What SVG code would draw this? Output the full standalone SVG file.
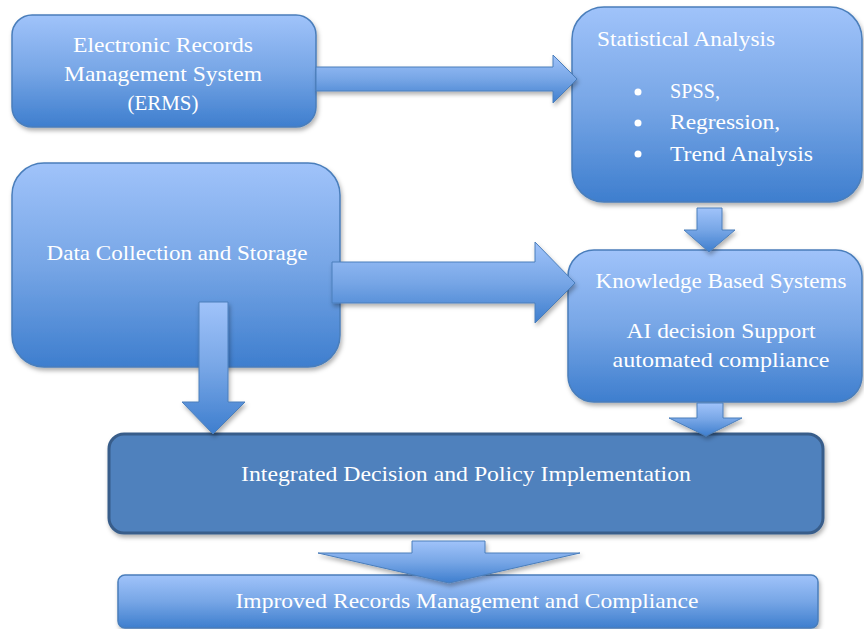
<svg xmlns="http://www.w3.org/2000/svg" width="864" height="629" viewBox="0 0 864 629">
  <defs>
    <linearGradient id="blueFill" x1="0" y1="0" x2="0" y2="1">
      <stop offset="0" stop-color="#A0C3FA"/>
      <stop offset="0.5" stop-color="#77A6E6"/>
      <stop offset="1" stop-color="#3E7ECE"/>
    </linearGradient>
    <filter id="shadow" x="-10%" y="-10%" width="120%" height="130%">
      <feDropShadow dx="1.5" dy="3" stdDeviation="2" flood-color="#000" flood-opacity="0.3"/>
    </filter>
    <style>
      .box { fill: url(#blueFill); stroke: #4A7EBB; stroke-width: 1.5; filter: url(#shadow); }
      .dark { fill: #4F81BD; stroke: #385D8A; stroke-width: 3; filter: url(#shadow); }
      .arrow { fill: url(#blueFill); stroke: #4A7EBB; stroke-width: 1; stroke-linejoin: miter; filter: url(#shadow); }
      text { font-family: "Liberation Serif", "DejaVu Serif", serif; font-size: 22px; fill: #FFFFFF; }
      .c { text-anchor: middle; }
    </style>
  </defs>

  <rect width="864" height="629" fill="#FFFFFF"/>

  <g id="erms">
    <rect class="box" x="12" y="15" width="304" height="112" rx="20"/>
    <text class="c" x="163" y="52" textLength="180" lengthAdjust="spacingAndGlyphs">Electronic Records</text>
    <text class="c" x="163" y="81" textLength="198" lengthAdjust="spacingAndGlyphs">Management System</text>
    <text class="c" x="163" y="110" textLength="71" lengthAdjust="spacingAndGlyphs">(ERMS)</text>
  </g>

  <g id="statistical-analysis">
    <rect class="box" x="572" y="7" width="290" height="195" rx="32"/>
    <text x="597" y="46" textLength="178" lengthAdjust="spacingAndGlyphs">Statistical Analysis</text>
    <circle cx="638" cy="92" r="3.5" fill="#FFFFFF"/>
    <circle cx="638" cy="123" r="3.5" fill="#FFFFFF"/>
    <circle cx="638" cy="154" r="3.5" fill="#FFFFFF"/>
    <text x="670" y="98" textLength="50" lengthAdjust="spacingAndGlyphs">SPSS,</text>
    <text x="670" y="129" textLength="110" lengthAdjust="spacingAndGlyphs">Regression,</text>
    <text x="670" y="161" textLength="143" lengthAdjust="spacingAndGlyphs">Trend Analysis</text>
  </g>

  <g id="data-collection">
    <rect class="box" x="12" y="163" width="328" height="204" rx="32"/>
    <text class="c" x="177" y="260" textLength="261" lengthAdjust="spacingAndGlyphs">Data Collection and Storage</text>
  </g>

  <g id="knowledge-based-systems">
    <rect class="box" x="568" y="250" width="294" height="152" rx="26"/>
    <text class="c" x="721" y="288" textLength="251" lengthAdjust="spacingAndGlyphs">Knowledge Based Systems</text>
    <text class="c" x="721" y="338" textLength="189" lengthAdjust="spacingAndGlyphs">AI decision Support</text>
    <text class="c" x="721" y="367" textLength="217" lengthAdjust="spacingAndGlyphs">automated compliance</text>
  </g>

  <g id="integrated-decision">
    <rect class="dark" x="109" y="434" width="714" height="99" rx="15"/>
    <text class="c" x="466" y="481" textLength="450" lengthAdjust="spacingAndGlyphs">Integrated Decision and Policy Implementation</text>
  </g>

  <g id="improved-records">
    <rect class="box" x="118" y="575" width="700" height="53" rx="7"/>
    <text class="c" x="467" y="608" textLength="463" lengthAdjust="spacingAndGlyphs">Improved Records Management and Compliance</text>
  </g>

  <g id="connectors">
    <!-- ERMS to Statistical Analysis -->
    <polygon class="arrow" points="316,67 553,67 553,55 577,79 553,103 553,91 316,91"/>
    <!-- Statistical Analysis to Knowledge Based Systems -->
    <polygon class="arrow" points="697,208 722,208 722,230 735,230 709,252 684,230 697,230"/>
    <!-- Data Collection to Knowledge Based Systems -->
    <polygon class="arrow" points="332,262 535,262 535,242 575,283 535,323 535,303 332,303"/>
    <!-- Data Collection to Integrated Decision -->
    <polygon class="arrow" points="199,302 228,302 228,402 245,402 213,434 182,402 199,402"/>
    <!-- Knowledge Based Systems to Integrated Decision -->
    <polygon class="arrow" points="697,403 723,403 723,418 742,418 706,436 669,418 697,418"/>
    <!-- Integrated Decision to Improved Records -->
    <polygon class="arrow" points="412,541 485,541 485,553 580,553 449,583 318,553 412,553"/>
  </g>
</svg>
